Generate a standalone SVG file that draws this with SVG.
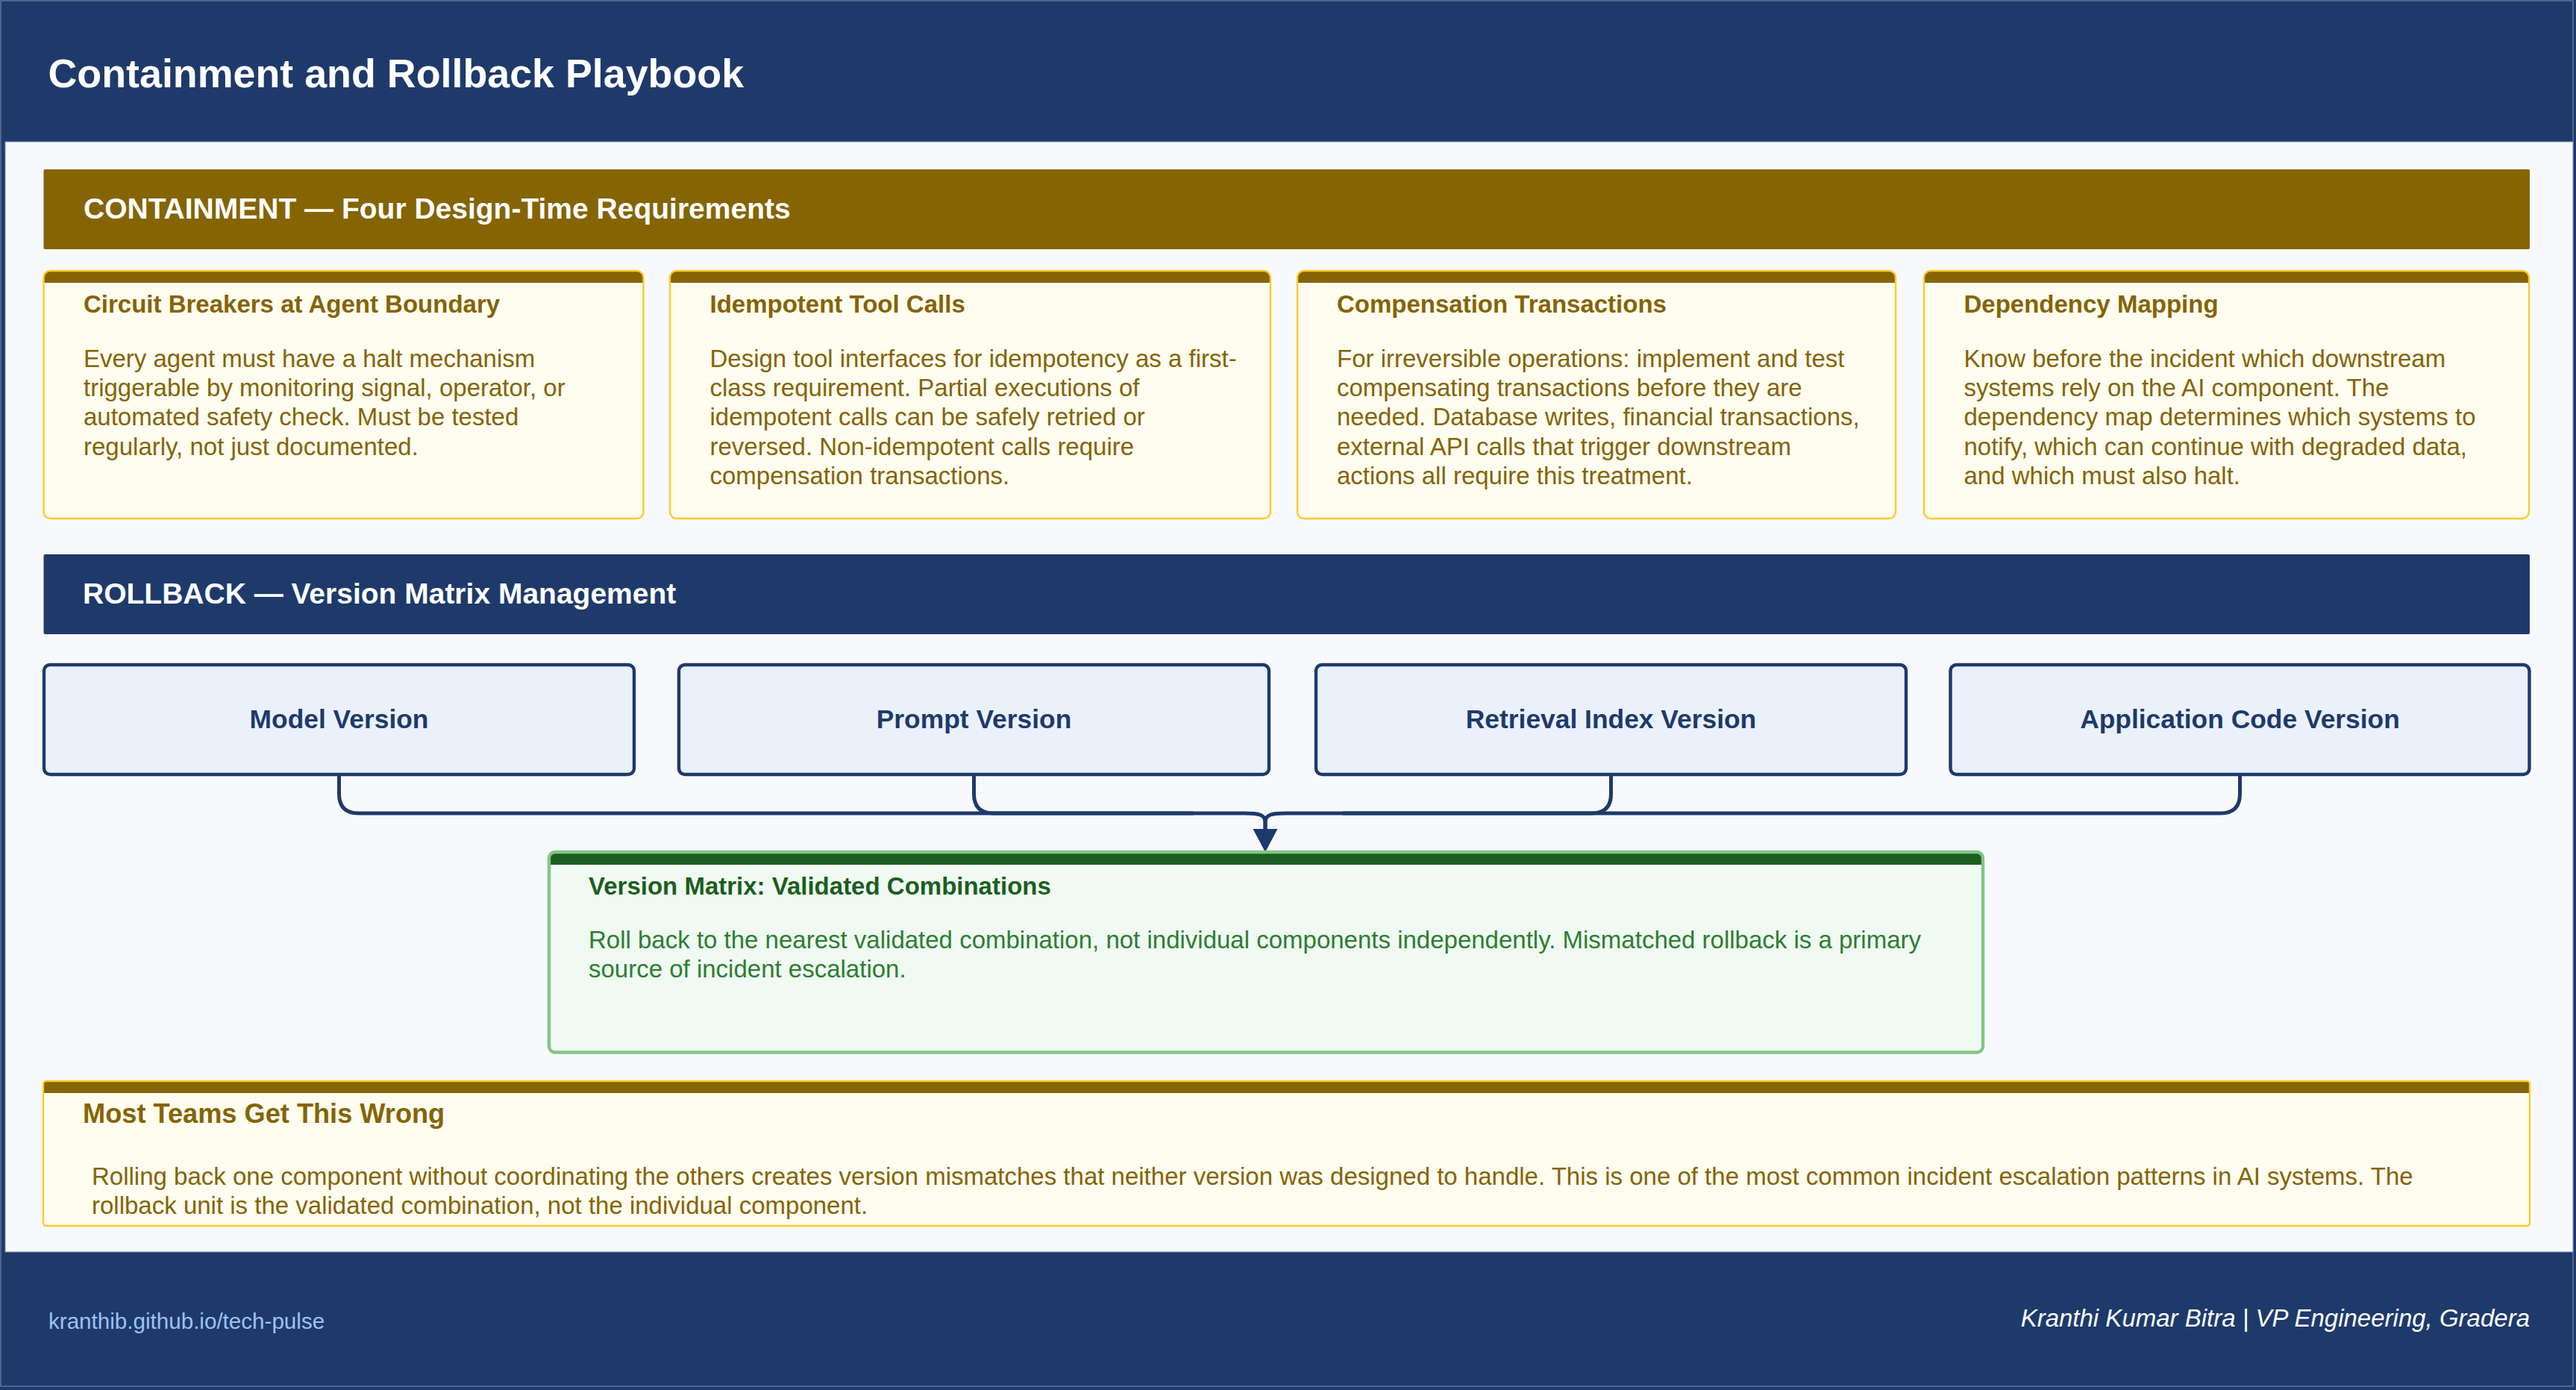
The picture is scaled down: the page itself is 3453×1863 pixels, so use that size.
<svg xmlns="http://www.w3.org/2000/svg" width="3453" height="1863" viewBox="0 0 3453 1863">
<defs>
<style>
text{font-family:"Liberation Sans",Arial,Helvetica,sans-serif}
.h1{font-size:53.8px;font-weight:700;fill:#ffffff}
.ban{font-size:39px;font-weight:700;fill:#ffffff}
.card{fill:#fffdf0;stroke:none}
.cardb{fill:none;stroke:#ffca28;stroke-width:2.4}
.bar{fill:#856404}
.ct{font-size:33px;font-weight:700;fill:#856404}
.cb{font-size:33px;fill:#856404}
.vbox{fill:#eaf1fb;stroke:#1e3a6b;stroke-width:4.4}
.vt{font-size:35.4px;font-weight:700;fill:#1e3a6b;text-anchor:middle}
.conn{fill:none;stroke:#1e3a6b;stroke-width:5}
.gt{font-size:33px;font-weight:700;fill:#1b5e20}
.gb{font-size:33px;fill:#2e7d32}
</style>
<marker id="arr" markerUnits="userSpaceOnUse" markerWidth="32" markerHeight="34" refX="0" refY="16.5" orient="auto">
<path d="M0,0 L31,16.5 L0,33 Z" fill="#1e3a6b"/>
</marker>
</defs>

<!-- background frame -->
<rect x="0" y="0" width="3453" height="1863" fill="#1e3a6b"/>
<rect x="1" y="1" width="3448" height="1857" fill="none" stroke="#5f7396" stroke-width="1.5"/>
<rect x="7" y="190" width="3442" height="1488" fill="#f7f9fd" stroke="#7d8fb0" stroke-width="1"/>

<g id="header">
<text class="h1" x="64.5" y="117">Containment and Rollback Playbook</text>
</g>

<g id="containment-banner">
<rect x="58.5" y="227" width="3332.5" height="107" rx="2" fill="#856404"/>
<text class="ban" x="112" y="293">CONTAINMENT — Four Design-Time Requirements</text>
</g>

<g id="card-circuit-breakers">
<rect class="card" x="58.5" y="363" width="804" height="332" rx="9"/>
<path class="bar" d="M58.5,379 V372 Q58.5,363 67.5,363 H853.5 Q862.5,363 862.5,372 V379 Z"/>
<rect class="cardb" x="58.5" y="363" width="804" height="332" rx="9"/>
<text class="ct" x="112" y="419">Circuit Breakers at Agent Boundary</text>
<text class="cb" x="112" y="492">Every agent must have a halt mechanism</text>
<text class="cb" x="112" y="531.2">triggerable by monitoring signal, operator, or</text>
<text class="cb" x="112" y="570.4">automated safety check. Must be tested</text>
<text class="cb" x="112" y="609.6">regularly, not just documented.</text>
</g>

<g id="card-idempotent">
<rect class="card" x="898" y="363" width="805" height="332" rx="9"/>
<path class="bar" d="M898,379 V372 Q898,363 907,363 H1694 Q1703,363 1703,372 V379 Z"/>
<rect class="cardb" x="898" y="363" width="805" height="332" rx="9"/>
<text class="ct" x="951.5" y="419">Idempotent Tool Calls</text>
<text class="cb" x="951.5" y="492">Design tool interfaces for idempotency as a first-</text>
<text class="cb" x="951.5" y="531.2">class requirement. Partial executions of</text>
<text class="cb" x="951.5" y="570.4">idempotent calls can be safely retried or</text>
<text class="cb" x="951.5" y="609.6">reversed. Non-idempotent calls require</text>
<text class="cb" x="951.5" y="648.8">compensation transactions.</text>
</g>

<g id="card-compensation">
<rect class="card" x="1739" y="363" width="802" height="332" rx="9"/>
<path class="bar" d="M1739,379 V372 Q1739,363 1748,363 H2532 Q2541,363 2541,372 V379 Z"/>
<rect class="cardb" x="1739" y="363" width="802" height="332" rx="9"/>
<text class="ct" x="1792" y="419">Compensation Transactions</text>
<text class="cb" x="1792" y="492">For irreversible operations: implement and test</text>
<text class="cb" x="1792" y="531.2">compensating transactions before they are</text>
<text class="cb" x="1792" y="570.4">needed. Database writes, financial transactions,</text>
<text class="cb" x="1792" y="609.6">external API calls that trigger downstream</text>
<text class="cb" x="1792" y="648.8">actions all require this treatment.</text>
</g>

<g id="card-dependency">
<rect class="card" x="2579" y="363" width="811" height="332" rx="9"/>
<path class="bar" d="M2579,379 V372 Q2579,363 2588,363 H3381 Q3390,363 3390,372 V379 Z"/>
<rect class="cardb" x="2579" y="363" width="811" height="332" rx="9"/>
<text class="ct" x="2632.5" y="419">Dependency Mapping</text>
<text class="cb" x="2632.5" y="492">Know before the incident which downstream</text>
<text class="cb" x="2632.5" y="531.2">systems rely on the AI component. The</text>
<text class="cb" x="2632.5" y="570.4">dependency map determines which systems to</text>
<text class="cb" x="2632.5" y="609.6">notify, which can continue with degraded data,</text>
<text class="cb" x="2632.5" y="648.8">and which must also halt.</text>
</g>

<g id="rollback-banner">
<rect x="58.5" y="743" width="3332.5" height="107" rx="2" fill="#1e3a6b"/>
<text class="ban" x="111" y="809">ROLLBACK — Version Matrix Management</text>
</g>

<g id="model-version">
<rect class="vbox" x="59" y="891" width="791" height="147" rx="8"/>
<text class="vt" x="454.5" y="976">Model Version</text>
</g>
<g id="prompt-version">
<rect class="vbox" x="910" y="891" width="791" height="147" rx="8"/>
<text class="vt" x="1305.5" y="976">Prompt Version</text>
</g>
<g id="retrieval-index-version">
<rect class="vbox" x="1764" y="891" width="791" height="147" rx="8"/>
<text class="vt" x="2159.5" y="976">Retrieval Index Version</text>
</g>
<g id="application-code-version">
<rect class="vbox" x="2614.5" y="891" width="776" height="147" rx="8"/>
<text class="vt" x="3002.5" y="976">Application Code Version</text>
</g>

<g id="connectors">
<path class="conn" d="M454.5,1040 V1064 Q454.5,1090 480.5,1090 H1668 C1688,1090 1696,1092 1696,1102 V1111" marker-end="url(#arr)"/>
<path class="conn" d="M1305.5,1040 V1064 Q1305.5,1090 1331.5,1090 H1600"/>
<path class="conn" d="M2159.5,1040 V1064 Q2159.5,1090 2133.5,1090 H1800"/>
<path class="conn" d="M3002.5,1040 V1064 Q3002.5,1090 2976.5,1090 H1724 C1704,1090 1696,1092 1696,1102 V1111"/>
</g>

<g id="version-matrix">
<rect x="736" y="1142" width="1922" height="268.5" rx="8" fill="#f0faf2"/>
<path d="M736,1159 V1150 Q736,1142 744,1142 H2650 Q2658,1142 2658,1150 V1159 Z" fill="#1b5e20"/>
<rect x="736" y="1142" width="1922" height="268.5" rx="8" fill="none" stroke="#81c784" stroke-width="4.4"/>
<text class="gt" x="789" y="1199">Version Matrix: Validated Combinations</text>
<text class="gb" x="789" y="1271">Roll back to the nearest validated combination, not individual components independently. Mismatched rollback is a primary</text>
<text class="gb" x="789" y="1310">source of incident escalation.</text>
</g>

<g id="warning">
<rect class="card" x="58" y="1449" width="3333" height="194" rx="4"/>
<path class="bar" d="M58,1465 V1452 Q58,1449 61,1449 H3388 Q3391,1449 3391,1452 V1465 Z"/>
<rect class="cardb" x="58" y="1449" width="3333" height="194" rx="4"/>
<text style="font-size:36.2px;font-weight:700;fill:#856404" x="111" y="1505">Most Teams Get This Wrong</text>
<text class="cb" x="123" y="1588">Rolling back one component without coordinating the others creates version mismatches that neither version was designed to handle. This is one of the most common incident escalation patterns in AI systems. The</text>
<text class="cb" x="123" y="1627">rollback unit is the validated combination, not the individual component.</text>
</g>

<g id="footer">
<text x="65" y="1781" style="font-size:29.6px;fill:#9fc2f2">kranthib.github.io/tech-pulse</text>
<text x="3391" y="1778" style="font-size:33px;font-style:italic;fill:#ffffff;text-anchor:end">Kranthi Kumar Bitra | VP Engineering, Gradera</text>
</g>
</svg>
